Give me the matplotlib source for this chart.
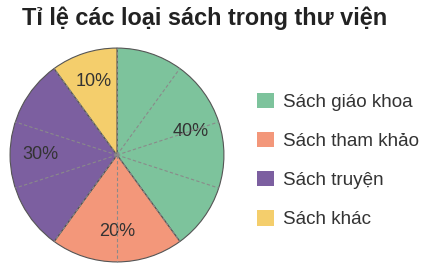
import matplotlib
matplotlib.use("Agg")
import matplotlib.pyplot as plt
from matplotlib.patches import Rectangle
import numpy as np

title = "Tỉ lệ các loại sách trong thư viện"
categories = ["Sách giáo khoa", "Sách tham khảo", "Sách truyện", "Sách khác"]
values = [40, 20, 30, 10]
colors = ["#7dc39c", "#f3977a", "#7c5fa0", "#f4ce6c"]

plt.rcParams['font.family'] = ['Liberation Sans', 'DejaVu Sans']

fig = plt.figure(figsize=(4.29, 2.75), dpi=100)
ax = fig.add_axes([9/429, 12/275, 216/429, 216/275])

wedges, texts, autotexts = ax.pie(
    values, colors=colors, startangle=90, counterclock=False,
    autopct=lambda p: f"{p:.0f}%", pctdistance=0.72,
    wedgeprops=dict(edgecolor="#555555", linewidth=0.8),
    textprops=dict(fontsize=13, color="#333333"))

# dashed guide lines every 10 %
total = sum(values)
for k in range(int(total / 10)):
    ang = np.deg2rad(90 - k * 36)
    ax.plot([0, np.cos(ang)], [0, np.sin(ang)], ls=(0, (3, 2)),
            color="#8a8a8a", lw=0.8, zorder=3)

ax.set_xlim(-1.01, 1.01)
ax.set_ylim(-1.01, 1.01)
ax.set_aspect('equal')
ax.axis('off')

fig.text(22/429, 1 - 18/275, title, fontsize=16.9, fontweight='bold',
         color="#222222", va='center', ha='left')

handles = [Rectangle((0, 0), 1, 1, facecolor=c, edgecolor='none') for c in colors]
leg = fig.legend(handles, categories, loc='upper left',
                 bbox_to_anchor=(257/429, 1 - 92.5/275), frameon=False,
                 fontsize=13.6, handlelength=0.9, handleheight=0.9,
                 labelspacing=1.1, handletextpad=0.5, borderpad=0,
                 borderaxespad=0)
for t in leg.get_texts():
    t.set_color("#333333")

fig.savefig("out.png", dpi=100)
